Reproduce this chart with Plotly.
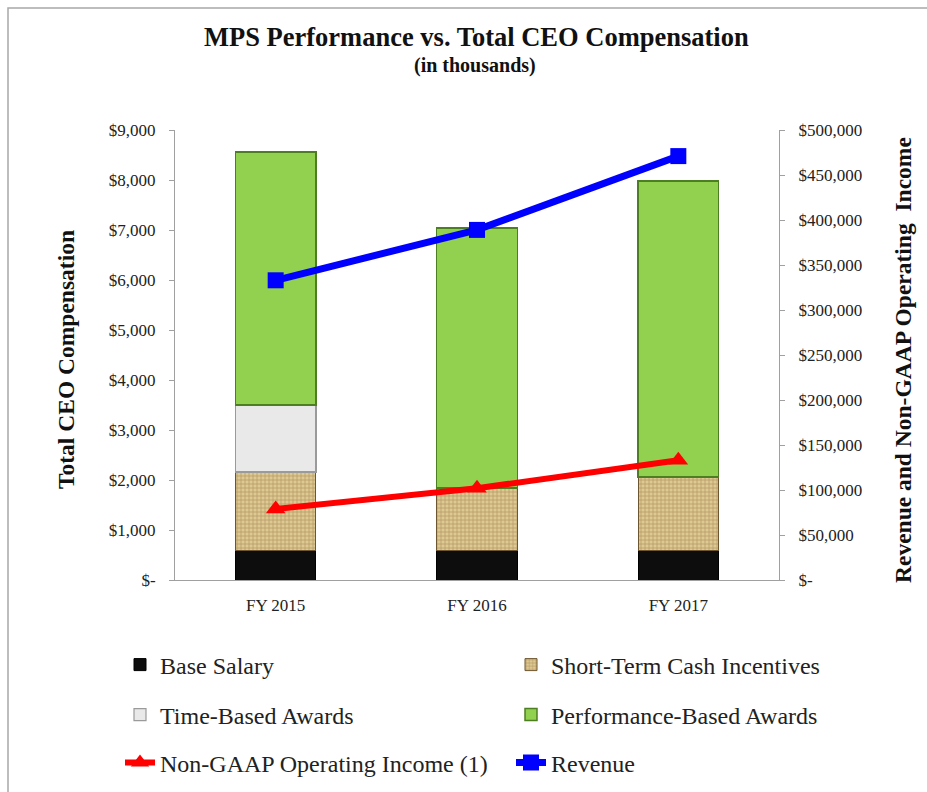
import plotly.graph_objects as go

years = ["FY 2015", "FY 2016", "FY 2017"]
base_salary = [600, 600, 600]
short_term_cash = [1560, 1240, 1460]
time_based = [1340, 0, 0]
performance_based = [5060, 5200, 5920]
non_gaap_op_income = [79000, 102000, 133000]
revenue = [333000, 389000, 471000]

left_ticks = [0, 1000, 2000, 3000, 4000, 5000, 6000, 7000, 8000, 9000]
left_labels = ["$-", "$1,000", "$2,000", "$3,000", "$4,000", "$5,000", "$6,000", "$7,000", "$8,000", "$9,000"]
right_ticks = [0, 50000, 100000, 150000, 200000, 250000, 300000, 350000, 400000, 450000, 500000]
right_labels = ["$-", "$50,000", "$100,000", "$150,000", "$200,000", "$250,000", "$300,000",
                "$350,000", "$400,000", "$450,000", "$500,000"]

SERIF = "Liberation Serif"
W, H = 927, 792
L, R, T, B = 175, 148, 130, 212
pw, ph = W - L - R, H - T - B


def px2x(p):
    return (p - L) / pw


def px2y(p):
    return (H - B - p) / ph


fig = go.Figure()
fig.add_trace(go.Bar(x=years, y=base_salary, name="Base Salary", legend="legend",
                     marker=dict(color="#0d0d0d", line=dict(color="#000000", width=1))))
fig.add_trace(go.Bar(x=years, y=short_term_cash, name="Short-Term Cash Incentives", legend="legend2",
                     marker=dict(color="#d8bf88", line=dict(color="#6e5630", width=1),
                                 pattern=dict(shape="+", fgcolor="#8a6a3a", bgcolor="#dfc992",
                                              size=4, solidity=0.35))))
fig.add_trace(go.Bar(x=years, y=time_based, name="Time-Based Awards", legend="legend3",
                     marker=dict(color="#e9e9e9", line=dict(color="#9a9a9a", width=1.2))))
fig.add_trace(go.Bar(x=years, y=performance_based, name="Performance-Based Awards", legend="legend4",
                     marker=dict(color="#92d050", line=dict(color="#4e7e22", width=1.5))))
fig.add_trace(go.Scatter(x=years, y=non_gaap_op_income, name="Non-GAAP Operating Income (1)",
                         legend="legend5", yaxis="y2", mode="lines+markers",
                         line=dict(color="#ff0000", width=6),
                         marker=dict(symbol="triangle-up", size=17, color="#ff0000")))
fig.add_trace(go.Scatter(x=years, y=revenue, name="Revenue", legend="legend6", yaxis="y2",
                         mode="lines+markers", line=dict(color="#0000ff", width=7),
                         marker=dict(symbol="square", size=16, color="#0000ff")))

legend_common = dict(orientation="h", xanchor="left", yanchor="middle",
                     xref="container", yref="container",
                     font=dict(family=SERIF, size=24, color="#222222"),
                     bgcolor="rgba(0,0,0,0)", itemwidth=30)
col1_x, col2_x = 120 / W, 511 / W
row_y = [1 - 665 / H, 1 - 715 / H, 1 - 763 / H]

tickfont = dict(family=SERIF, size=17, color="#222222")

fig.update_layout(
    width=W, height=H,
    margin=dict(l=L, r=R, t=T, b=B, autoexpand=False),
    paper_bgcolor="white", plot_bgcolor="white",
    font=dict(family=SERIF, color="#222222"),
    barmode="stack", bargap=0.6, showlegend=True,
    xaxis=dict(showline=True, linecolor="#a0a0a0", linewidth=1, ticks="",
               tickfont=tickfont, showgrid=False, ticklabelstandoff=10),
    yaxis=dict(range=[0, 9000], tickvals=left_ticks, ticktext=left_labels,
               showline=True, linecolor="#a0a0a0", linewidth=1, ticks="outside",
               ticklen=5, tickcolor="#a0a0a0", showgrid=False, zeroline=False,
               tickfont=tickfont, ticklabelstandoff=10),
    yaxis2=dict(range=[0, 500000], tickvals=right_ticks, ticktext=right_labels,
                overlaying="y", side="right", showline=True, linecolor="#a0a0a0",
                linewidth=1, ticks="outside", ticklen=5, tickcolor="#a0a0a0",
                showgrid=False, zeroline=False, tickfont=tickfont, ticklabelstandoff=10),
    legend=dict(legend_common, x=col1_x, y=row_y[0]),
    legend2=dict(legend_common, x=col2_x, y=row_y[0]),
    legend3=dict(legend_common, x=col1_x, y=row_y[1]),
    legend4=dict(legend_common, x=col2_x, y=row_y[1]),
    legend5=dict(legend_common, x=col1_x, y=row_y[2]),
    legend6=dict(legend_common, x=col2_x, y=row_y[2]),
    annotations=[
        dict(text="<b>MPS Performance vs. Total CEO Compensation</b>", xref="paper", yref="paper",
             x=px2x(476), y=px2y(37), xanchor="center", yanchor="middle", showarrow=False,
             font=dict(family=SERIF, size=26.5, color="#111111")),
        dict(text="<b>(in thousands)</b>", xref="paper", yref="paper",
             x=px2x(475), y=px2y(65), xanchor="center", yanchor="middle", showarrow=False,
             font=dict(family=SERIF, size=20, color="#111111")),
        dict(text="<b>Total CEO Compensation</b>", xref="paper", yref="paper",
             x=px2x(66), y=px2y(360), xanchor="center", yanchor="middle", showarrow=False,
             textangle=-90, font=dict(family=SERIF, size=23.5, color="#111111")),
        dict(text="<b>Revenue and Non-GAAP Operating  Income</b>", xref="paper", yref="paper",
             x=px2x(903), y=px2y(360), xanchor="center", yanchor="middle", showarrow=False,
             textangle=-90, font=dict(family=SERIF, size=23.5, color="#111111")),
    ],
    shapes=[dict(type="rect", xref="paper", yref="paper",
                 x0=px2x(8), x1=px2x(940), y0=px2y(800), y1=px2y(8),
                 line=dict(color="#a8a8a8", width=1.5), fillcolor="rgba(0,0,0,0)", layer="below")],
)

fig.write_html("out.html")
